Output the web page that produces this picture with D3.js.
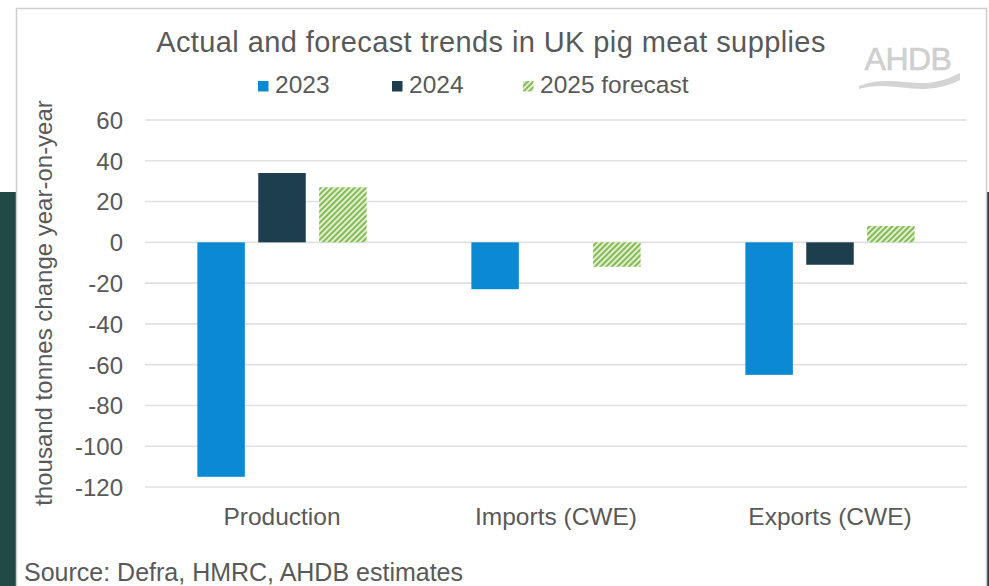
<!DOCTYPE html>
<html>
<head>
<meta charset="utf-8">
<script src="https://cdn.jsdelivr.net/npm/d3@7"></script>
<style>
  html, body { margin: 0; padding: 0; background: #ffffff; }
  svg { display: block; }
  text { font-family: "Liberation Sans", Arial, Helvetica, sans-serif; }
</style>
</head>
<body>
<svg id="chart" width="989" height="586"></svg>
<script>
// Supply categories and year-on-year changes (thousand tonnes)
const categories = ["Production", "Imports (CWE)", "Exports (CWE)"];
const seriesNames = ["2023", "2024", "2025 forecast"];
const values2023 = [-115, -23, -65];
const values2024 = [34, 0, -11];
const values2025 = [27, -12, 8];
const yTicks = [60, 40, 20, 0, -20, -40, -60, -80, -100, -120];

const seriesValues = [values2023, values2024, values2025];
const rows = categories.map((c, i) => ({
  category: c,
  bars: seriesNames.map((s, j) => ({ series: s, value: seriesValues[j][i] }))
}));

const W = 989, H = 586;
const plot = { left: 145, right: 967, top: 120, bottom: 487 };

const svg = d3.select("#chart");
const defs = svg.append("defs");

// Fine hatched fill used for the forecast series
const pat = defs.append("pattern")
  .attr("id", "hatch")
  .attr("patternUnits", "userSpaceOnUse")
  .attr("width", 4).attr("height", 4)
  .attr("patternTransform", "rotate(45)");
pat.append("rect").attr("width", 4).attr("height", 4).attr("fill", "#e0efcf");
pat.append("rect").attr("width", 2).attr("height", 4).attr("fill", "#86ba57");

const colour = d3.scaleOrdinal()
  .domain(seriesNames)
  .range(["#0b8ad3", "#1d3e4d", "url(#hatch)"]);

// Page backdrop: light top band, dark green lower band
svg.append("rect").attr("x", 0).attr("y", 0).attr("width", W).attr("height", H).attr("fill", "#ffffff");
svg.append("rect").attr("x", 0).attr("y", 192).attr("width", W).attr("height", H - 192).attr("fill", "#1f4a45");

// White card holding the chart
svg.append("rect")
  .attr("x", 16.5).attr("y", 8.5).attr("width", 970).attr("height", 600)
  .attr("fill", "#ffffff").attr("stroke", "#cfcfcf").attr("stroke-width", 1.5);

const x0 = d3.scaleBand().domain(categories).range([plot.left, plot.right]).paddingInner(0).paddingOuter(0);
const x1 = d3.scaleBand().domain(seriesNames).range([0, x0.bandwidth()]).paddingInner(0.22).paddingOuter(0.86);
const y = d3.scaleLinear().domain([-120, 60]).range([plot.bottom, plot.top]);

// Horizontal gridlines
svg.append("g")
  .selectAll("line")
  .data(yTicks)
  .join("line")
  .attr("x1", plot.left).attr("x2", plot.right)
  .attr("y1", d => y(d)).attr("y2", d => y(d))
  .attr("stroke", "#e1e1e1").attr("stroke-width", 1.6);

// Value axis labels (plain hyphen for negatives)
const yAxis = d3.axisLeft(y).tickValues(yTicks).tickSize(0).tickPadding(0).tickFormat(d => String(d));
const gy = svg.append("g").attr("transform", "translate(123,0)").call(yAxis);
gy.select(".domain").remove();
gy.selectAll("text")
  .attr("fill", "#595959")
  .attr("font-size", 24)
  .attr("dy", "0.35em")
  .style("font-family", "'Liberation Sans', Arial, sans-serif");

// Bars
const groups = svg.append("g")
  .selectAll("g")
  .data(rows)
  .join("g")
  .attr("transform", d => `translate(${x0(d.category)},0)`);

groups.selectAll("rect")
  .data(d => d.bars)
  .join("rect")
  .attr("x", d => x1(d.series))
  .attr("width", x1.bandwidth())
  .attr("y", d => y(Math.max(0, d.value)))
  .attr("height", d => Math.abs(y(d.value) - y(0)))
  .attr("fill", d => colour(d.series));

// Category axis labels
const xAxis = d3.axisBottom(x0).tickSize(0).tickPadding(0);
const gx = svg.append("g").attr("transform", "translate(0,525)").call(xAxis);
gx.select(".domain").remove();
gx.selectAll("text")
  .attr("fill", "#595959")
  .attr("font-size", 24.5)
  .attr("dy", 0)
  .style("font-family", "'Liberation Sans', Arial, sans-serif");

// Axis title
svg.append("text")
  .attr("transform", "translate(52,303) rotate(-90)")
  .attr("text-anchor", "middle")
  .attr("font-size", 24)
  .attr("fill", "#595959")
  .text("thousand tonnes change year-on-year");

// Chart title
svg.append("text")
  .attr("x", 491).attr("y", 52)
  .attr("text-anchor", "middle")
  .attr("font-size", 29)
  .attr("letter-spacing", 0.4)
  .attr("fill", "#595959")
  .text("Actual and forecast trends in UK pig meat supplies");

// Legend
const legendX = [258, 392, 523];
const legend = svg.append("g")
  .selectAll("g")
  .data(seriesNames)
  .join("g")
  .attr("transform", (d, i) => `translate(${legendX[i]},0)`);
legend.append("rect")
  .attr("x", 0).attr("y", 81).attr("width", 10.5).attr("height", 10.5)
  .attr("fill", d => colour(d));
legend.append("text")
  .attr("x", 17).attr("y", 93)
  .attr("font-size", 24.5)
  .attr("fill", "#595959")
  .text(d => d);

// Source note
svg.append("text")
  .attr("x", 24).attr("y", 581)
  .attr("font-size", 25)
  .attr("fill", "#595959")
  .text("Source: Defra, HMRC, AHDB estimates");

// AHDB logo
const logo = svg.append("g");
logo.append("text")
  .attr("x", 908).attr("y", 70)
  .attr("text-anchor", "middle")
  .attr("font-size", 32)
  .attr("letter-spacing", -0.5)
  .attr("fill", "#cfcfcf")
  .attr("stroke", "#cfcfcf").attr("stroke-width", 0.6)
  .text("AHDB");
logo.append("path")
  .attr("d", "M859,86 C884,76 905,84 926,83 C941,82 952,77 960,73 L960,80 C950,85 940,88 925,89 C905,90 884,82 859,89 Z")
  .attr("fill", "#d4d4d4");
</script>
</body>
</html>
